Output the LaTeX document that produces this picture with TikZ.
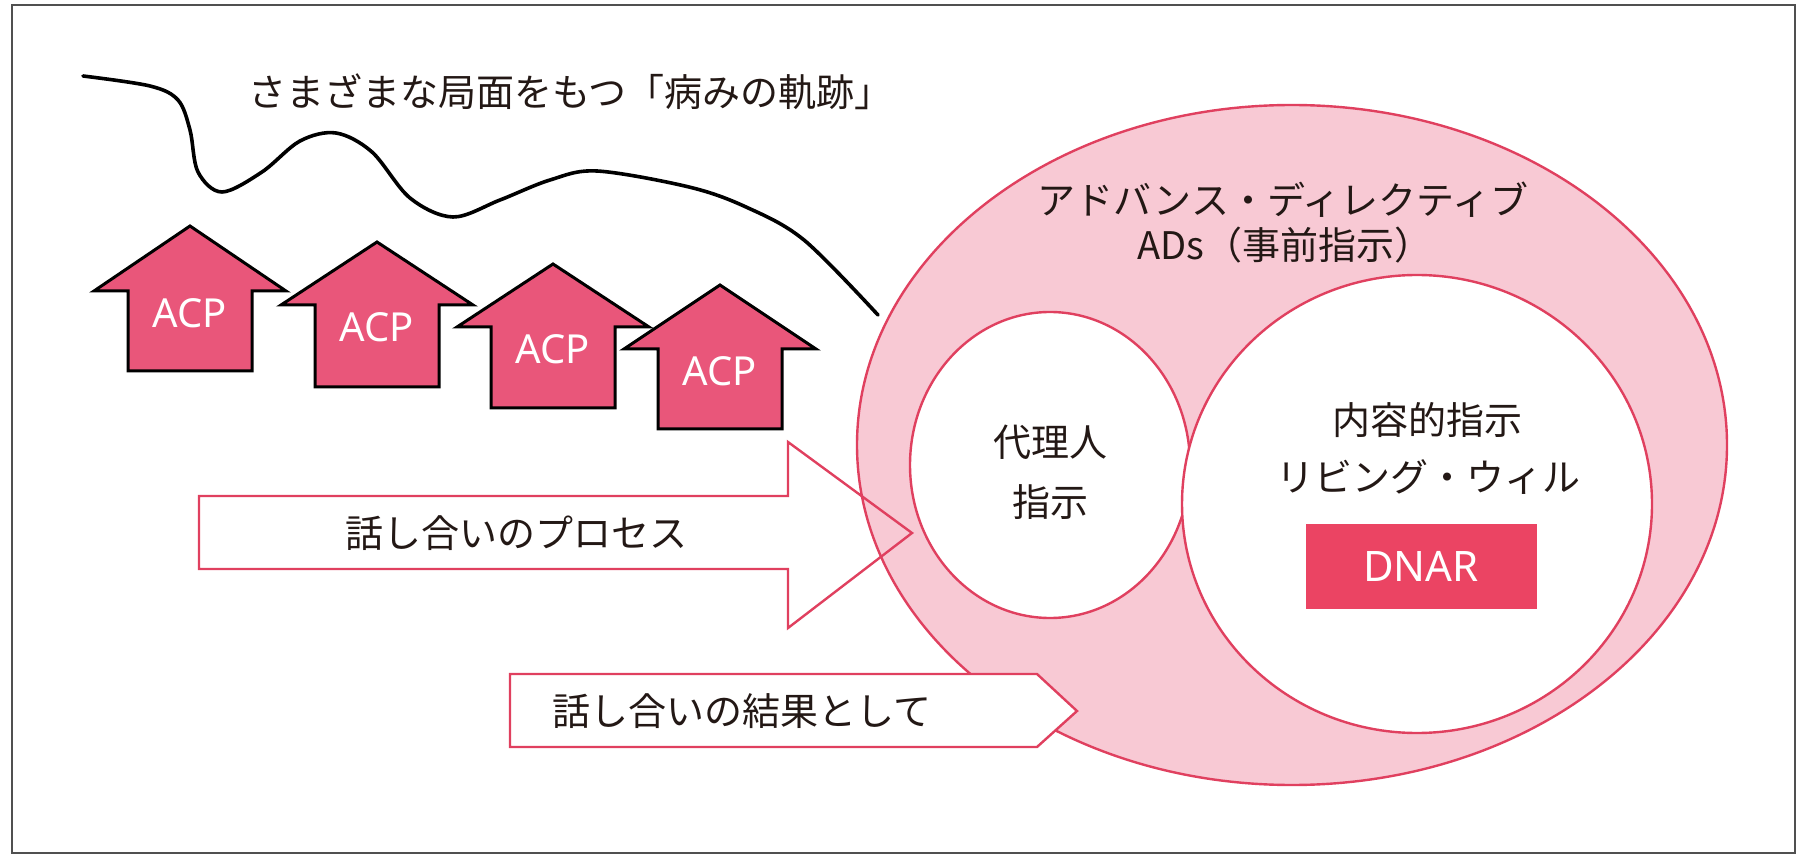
\documentclass[tikz,border=0pt]{standalone}
\usepackage{fontspec}
\usetikzlibrary{shapes.geometric}
\setmainfont{Noto Sans CJK JP}
\newfontfamily\latinsans{Noto Sans}
\definecolor{acpfill}{HTML}{E9567A}
\definecolor{pinkline}{HTML}{E0405F}
\definecolor{outerfill}{HTML}{F8C9D4}
\definecolor{dnarfill}{HTML}{EB4463}
\definecolor{inktext}{HTML}{231815}
\definecolor{framegray}{HTML}{505050}
\tikzset{
  acparrow/.style={fill=acpfill, draw=black, line width=1.5pt, line join=miter},
  acplabel/.style={text=white, font=\latinsans\fontsize{20pt}{24pt}\selectfont, inner sep=0pt},
  jtext/.style={text=inktext, font=\fontsize{19pt}{23pt}\selectfont, inner sep=0pt},
  pinkborder/.style={draw=pinkline, line width=1.2pt},
}
\begin{document}
\begin{tikzpicture}[x=0.5pt,y=-0.5pt]
\useasboundingbox (0,0) rectangle (1810,855);
% frame
\draw[framegray, line width=1pt] (12,5) rectangle (1795,853);
% trajectory curve
\draw[black, line width=1.8pt, line cap=round] plot[smooth, tension=0.55] coordinates {
 (83,76) (150,86) (178,100) (190,130) (198,172) (222,192) (262,172) (300,141) (336,133)
 (372,152) (410,198) (453,217) (500,200) (550,180) (597,171) (689,187) (746,207) (804,240) (878,315)};
% ACP arrows
\foreach \c/\t/\h/\b [count=\i] in {190/226/291/371, 377/242/305/387, 553/264/327/408, 720/285/349/429}{
  \draw[acparrow] (\c,\t) -- (\c+96,\h) -- (\c+62,\h) -- (\c+62,\b) -- (\c-62,\b) -- (\c-62,\h) -- (\c-96,\h) -- cycle;
  \node[acplabel] (acp\i) at (\c,\h+22) {ACP};
}
% process arrow fill (under ellipse)
\fill[white] (199,496) -- (788,496) -- (788,442) -- (912,533) -- (788,628) -- (788,569) -- (199,569) -- cycle;
% outer ellipse
\node[pinkborder, fill=outerfill, ellipse, minimum width=435pt, minimum height=340pt, inner sep=0pt] (ads) at (1292,445) {};
% process arrow outline (visible over ellipse)
\draw[pinkborder, line join=miter] (199,496) -- (788,496) -- (788,442) -- (912,533) -- (788,628) -- (788,569) -- (199,569) -- cycle;
% inner ellipses
\draw[pinkborder, fill=white] (1050,465) ellipse [x radius=140, y radius=153];
\draw[pinkborder, fill=white] (1417,504) ellipse [x radius=235, y radius=229];
% result box
\draw[pinkborder, fill=white, line join=miter] (510,674) -- (1037,674) -- (1077,711) -- (1037,747) -- (510,747) -- cycle;
% DNAR
\node[fill=dnarfill, minimum width=115.5pt, minimum height=42.5pt, inner sep=0pt, text=white, font=\latinsans\fontsize{21pt}{25pt}\selectfont] (dnar) at (1421,566) {DNAR};
% texts
\node[jtext, anchor=west] (title) at (248,92) {さまざまな局面をもつ「病みの軌跡」};
\node[jtext] (adsA) at (1283,200) {アドバンス・ディレクティブ};
\node[jtext] (adsB) at (1285,245) {ADs（事前指示）};
\node[jtext] (proxyA) at (1050,442) {代理人};
\node[jtext] (proxyB) at (1050,502) {指示};
\node[jtext] (lwA) at (1427,420) {内容的指示};
\node[jtext] (lwB) at (1428,477) {リビング・ウィル};
\node[jtext] (proc) at (516,533) {話し合いのプロセス};
\node[jtext] (res) at (742,711) {話し合いの結果として};
\end{tikzpicture}
\end{document}
